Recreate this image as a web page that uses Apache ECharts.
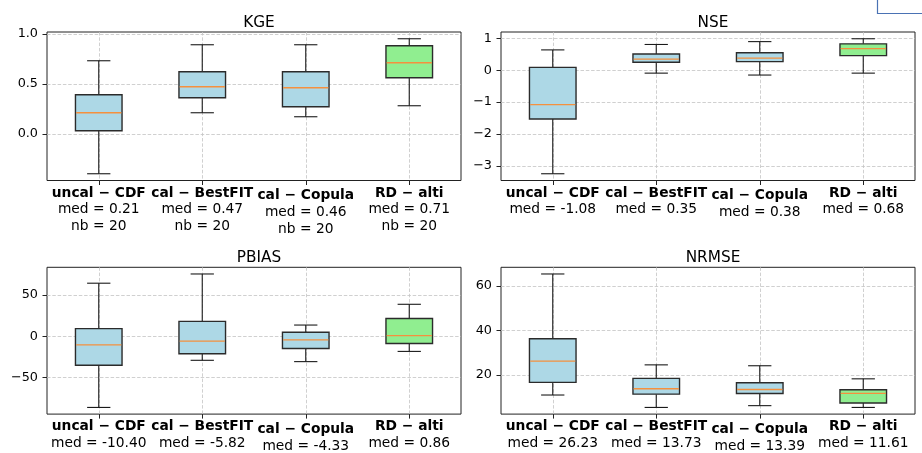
<!DOCTYPE html>
<html>
<head>
<meta charset="utf-8">
<script src="https://cdn.jsdelivr.net/npm/echarts@6/dist/echarts.min.js"></script>
<style>
html,body{margin:0;padding:0;background:#fff;}
#chart{width:922px;height:453px;}
</style>
</head>
<body>
<div id="chart"></div>
<script>
// ---------- data ----------
const categories = ['uncal − CDF', 'cal − BestFIT', 'cal − Copula', 'RD − alti'];
const boxColors = ['#add8e6', '#add8e6', '#add8e6', '#90ee90'];
const kgeCounts = [20, 20, 20, 20];

// each row: [lower whisker, Q1, median, Q3, upper whisker]
const kgeBoxes = [
  [-0.40, 0.03, 0.21, 0.39, 0.73],
  [0.21, 0.36, 0.47, 0.62, 0.89],
  [0.17, 0.27, 0.46, 0.62, 0.89],
  [0.28, 0.56, 0.71, 0.88, 0.95]
];
const nseBoxes = [
  [-3.25, -1.53, -1.08, 0.09, 0.64],
  [-0.09, 0.25, 0.35, 0.51, 0.81],
  [-0.15, 0.27, 0.38, 0.55, 0.90],
  [-0.09, 0.46, 0.68, 0.83, 0.99]
];
const pbiasBoxes = [
  [-86.4, -35.2, -10.40, 9.2, 64.4],
  [-29.2, -21.2, -5.82, 18.0, 75.6],
  [-30.8, -14.8, -4.33, 4.8, 13.6],
  [-18.4, -8.8, 0.86, 21.6, 38.8]
];
const nrmseBoxes = [
  [10.9, 16.6, 26.23, 36.3, 65.5],
  [5.3, 11.3, 13.73, 18.4, 24.5],
  [6.1, 11.6, 13.39, 16.4, 24.1],
  [5.3, 7.3, 11.61, 13.3, 18.2]
];

const kgeTicks = [0, 0.5, 1.0];
const nseTicks = [-3, -2, -1, 0, 1];
const pbiasTicks = [-50, 0, 50];
const nrmseTicks = [20, 40, 60];

// ---------- chart ----------
const FONT = 'DejaVu Sans';
const panels = [
  {title: 'KGE', boxes: kgeBoxes, ticks: kgeTicks, dec: 1, counts: kgeCounts,
   grid: {left: 47, top: 32, width: 414, height: 148.5}},
  {title: 'NSE', boxes: nseBoxes, ticks: nseTicks, dec: 0, counts: null,
   grid: {left: 501, top: 32, width: 414, height: 148.5}},
  {title: 'PBIAS', boxes: pbiasBoxes, ticks: pbiasTicks, dec: 0, counts: null,
   grid: {left: 47, top: 267.3, width: 414, height: 148}},
  {title: 'NRMSE', boxes: nrmseBoxes, ticks: nrmseTicks, dec: 0, counts: null,
   grid: {left: 501, top: 267.3, width: 414, height: 148}}
];

const fmtNum = (v, d) => v.toFixed(d).replace('-', '−');

const grids = [], xAxes = [], yAxes = [], series = [], titles = [];

panels.forEach((p, i) => {
  grids.push(Object.assign({show: true, borderColor: '#222', borderWidth: 1,
    backgroundColor: 'transparent', containLabel: false}, p.grid));

  let lo = Infinity, hi = -Infinity;
  p.boxes.forEach(b => { lo = Math.min(lo, b[0]); hi = Math.max(hi, b[4]); });
  const pad = (hi - lo) * 0.05;

  titles.push({
    text: p.title,
    left: p.grid.left + p.grid.width / 2,
    top: p.grid.top - 21.5,
    textAlign: 'center',
    textStyle: {fontFamily: FONT, fontSize: 15.3, fontWeight: 'normal', color: '#000'}
  });

  const catData = categories.map((c, k) => {
    const item = {value: c};
    if (k === 2) item.textStyle = {padding: [2.5, 0, 0, 0]};
    return item;
  });

  xAxes.push({
    type: 'category', gridIndex: i, data: catData, boundaryGap: true,
    axisLine: {show: false, onZero: false},
    axisTick: {show: true, alignWithLabel: true, length: 4.5, lineStyle: {color: '#222', width: 1}},
    splitLine: {show: true, alignWithLabel: true, lineStyle: {color: '#c4c4c4', width: 0.8, type: [3.5, 1.8]}},
    axisLabel: {
      interval: 0, margin: 4.5, color: '#000', fontFamily: FONT,
      formatter: (val, k) => {
        const b = p.boxes[k];
        let s = '{b|' + val + '}\n{n|med = ' + b[2].toFixed(2) + '}';
        if (p.counts) s += '\n{n|nb = ' + p.counts[k] + '}';
        return s;
      },
      rich: {
        b: {fontFamily: FONT, fontWeight: 'bold', fontSize: 13.8, lineHeight: 16.6, color: '#000'},
        n: {fontFamily: FONT, fontSize: 13.8, lineHeight: 16.6, color: '#000'}
      }
    }
  });

  yAxes.push({
    type: 'value', gridIndex: i, min: lo - pad, max: hi + pad,
    axisLine: {show: false, onZero: false},
    axisTick: {show: true, length: 4.5, customValues: p.ticks, lineStyle: {color: '#222', width: 1}},
    splitLine: {show: true, lineStyle: {color: '#c4c4c4', width: 0.8, type: [3.5, 1.8]}},
    axisLabel: {
      customValues: p.ticks, margin: 9, color: '#000', fontFamily: FONT, fontSize: 12.8,
      formatter: v => fmtNum(v, p.dec)
    }
  });

  series.push({
    type: 'custom', xAxisIndex: i, yAxisIndex: i,
    data: p.boxes.map((b, k) => [k].concat(b)),
    encode: {x: 0, y: [1, 2, 3, 4, 5]},
    renderItem: (params, api) => {
      const k = api.value(0);
      const band = api.size([1, 0])[0];
      const bw = band * 0.45;
      const x = api.coord([k, api.value(3)])[0];
      const yLo = api.coord([k, api.value(1)])[1];
      const yQ1 = api.coord([k, api.value(2)])[1];
      const yMed = api.coord([k, api.value(3)])[1];
      const yQ3 = api.coord([k, api.value(4)])[1];
      const yHi = api.coord([k, api.value(5)])[1];
      const blk = {stroke: '#1a1a1a', lineWidth: 1.1};
      return {
        type: 'group',
        children: [
          {type: 'line', shape: {x1: x, y1: yQ1, x2: x, y2: yLo}, style: blk},
          {type: 'line', shape: {x1: x, y1: yQ3, x2: x, y2: yHi}, style: blk},
          {type: 'line', shape: {x1: x - bw / 4, y1: yLo, x2: x + bw / 4, y2: yLo}, style: blk},
          {type: 'line', shape: {x1: x - bw / 4, y1: yHi, x2: x + bw / 4, y2: yHi}, style: blk},
          {type: 'rect', shape: {x: x - bw / 2, y: yQ3, width: bw, height: yQ1 - yQ3},
           style: {fill: boxColors[params.dataIndex], stroke: '#2b2b2b', lineWidth: 1.4}},
          {type: 'line', shape: {x1: x - bw / 2 + 0.7, y1: yMed, x2: x + bw / 2 - 0.7, y2: yMed},
           style: {stroke: '#f5903e', lineWidth: 1.3}}
        ]
      };
    }
  });
});

const chart = echarts.init(document.getElementById('chart'), null, {renderer: 'canvas'});
chart.setOption({
  animation: false,
  backgroundColor: '#fff',
  title: titles,
  grid: grids,
  xAxis: xAxes,
  yAxis: yAxes,
  series: series,
  graphic: [{
    type: 'polyline',
    shape: {points: [[877.5, 0], [877.5, 13.5], [922, 13.5]]},
    style: {stroke: '#4a72b4', lineWidth: 1.2, fill: null}
  }]
});
</script>
</body>
</html>
